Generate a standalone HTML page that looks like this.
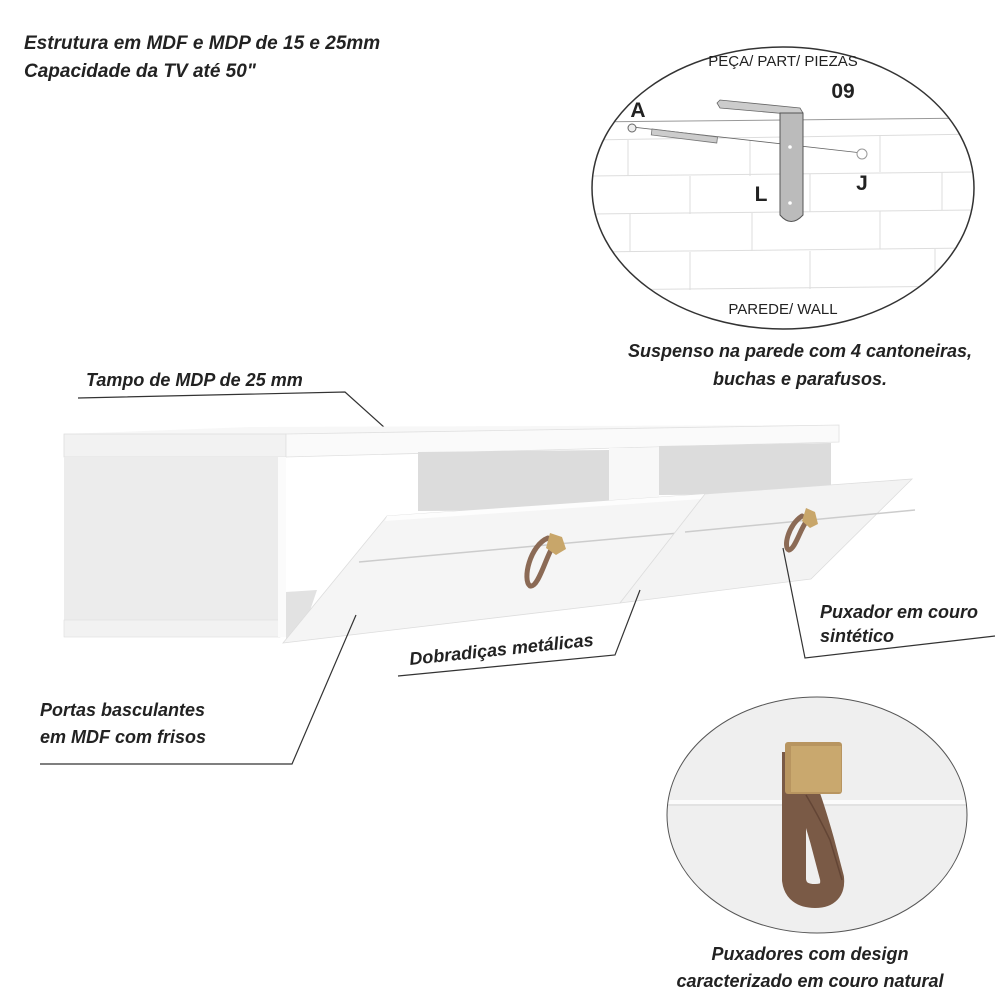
<!DOCTYPE html>
<html><head><meta charset="utf-8"><style>
html,body{margin:0;padding:0;background:#fff;}
svg{display:block;}
.t{font-family:"Liberation Sans",sans-serif;font-style:italic;font-weight:bold;fill:#222;}
.a{font-family:"Liberation Sans",sans-serif;fill:#222;}
</style></head><body>
<svg width="1000" height="1000" viewBox="0 0 1000 1000" xmlns="http://www.w3.org/2000/svg">
<defs>
<clipPath id="c1"><ellipse cx="783" cy="188" rx="191" ry="141"/></clipPath>
<clipPath id="c2"><ellipse cx="817" cy="815" rx="150" ry="118"/></clipPath>
</defs>
<text class="t" x="24" y="49" font-size="19">Estrutura em  MDF e MDP de  15 e 25mm</text>
<text class="t" x="24" y="77" font-size="19">Capacidade da TV até 50"</text>

<ellipse cx="783" cy="188" rx="191" ry="141" fill="#fff"/>
<g clip-path="url(#c1)" stroke="#ddd" stroke-width="1" fill="none">
<line x1="590" y1="122" x2="980" y2="118" stroke="#999"/>
<line x1="590" y1="140" x2="980" y2="134"/>
<line x1="590" y1="176" x2="980" y2="172"/>
<line x1="590" y1="214" x2="980" y2="210"/>
<line x1="590" y1="252" x2="980" y2="248"/>
<line x1="590" y1="290" x2="980" y2="286"/>
<line x1="628" y1="140" x2="628" y2="176"/><line x1="750" y1="140" x2="750" y2="176"/><line x1="880" y1="135" x2="880" y2="172"/>
<line x1="690" y1="176" x2="690" y2="214"/><line x1="810" y1="174" x2="810" y2="212"/><line x1="942" y1="172" x2="942" y2="210"/>
<line x1="630" y1="214" x2="630" y2="252"/><line x1="752" y1="213" x2="752" y2="251"/><line x1="880" y1="211" x2="880" y2="249"/>
<line x1="690" y1="252" x2="690" y2="290"/><line x1="810" y1="251" x2="810" y2="289"/><line x1="935" y1="249" x2="935" y2="287"/>
</g>
<ellipse cx="783" cy="188" rx="191" ry="141" fill="none" stroke="#333" stroke-width="1.5"/>
<text class="a" x="783" y="66" font-size="15" text-anchor="middle">PEÇA/ PART/ PIEZAS</text>
<text class="a" x="843" y="98" font-size="21" font-weight="bold" text-anchor="middle">09</text>
<text class="a" x="638" y="117" font-size="21" font-weight="bold" text-anchor="middle">A</text>
<text class="a" x="761" y="201" font-size="21" font-weight="bold" text-anchor="middle">L</text>
<text class="a" x="862" y="190" font-size="21" font-weight="bold" text-anchor="middle">J</text>
<text class="a" x="783" y="314" font-size="15" text-anchor="middle">PAREDE/ WALL</text>
<line x1="632" y1="127" x2="862" y2="153" stroke="#666" stroke-width="0.8"/>
<circle cx="632" cy="128" r="4" fill="#eee" stroke="#666"/>
<rect x="652" y="129" width="66" height="6" fill="#ccc" stroke="#777" stroke-width="0.8" transform="rotate(7 652 129)"/>
<circle cx="862" cy="154" r="5" fill="#fff" stroke="#999"/>
<polygon points="717,103 720,100 800,108 803,113 800,115 720,108" fill="#ccc" stroke="#666" stroke-width="0.8"/>
<path d="M780,113 L803,113 L803,215 Q791,228 780,215 Z" fill="#bbb" stroke="#555" stroke-width="1"/>
<circle cx="790" cy="147" r="1.8" fill="#fff"/><circle cx="790" cy="203" r="1.8" fill="#fff"/>

<text class="t" x="800" y="357" font-size="18" text-anchor="middle">Suspenso na parede com 4 cantoneiras,</text>
<text class="t" x="800" y="385" font-size="18" text-anchor="middle">buchas e parafusos.</text>

<text class="t" x="86" y="386" font-size="18">Tampo de MDP de 25 mm</text>
<polyline points="78,398 345,392 385,428" fill="none" stroke="#333" stroke-width="1.2"/>

<polygon points="64,434 250,427 839,425 839,442 286,457 64,457" fill="#f7f7f7"/>
<polygon points="64,434 286,434 286,457 64,457" fill="#f2f2f2" stroke="#ddd" stroke-width="0.8"/>
<polygon points="286,434 839,425 839,442 286,457" fill="#fafafa" stroke="#e0e0e0" stroke-width="0.8"/>
<rect x="64" y="457" width="214" height="180" fill="#ececec"/>
<rect x="64" y="620" width="216" height="17" fill="#f2f2f2" stroke="#ddd" stroke-width="0.6"/>
<rect x="278" y="457" width="8" height="180" fill="#fbfbfb"/>
<polygon points="418,452 609,450 609,510 418,511" fill="#dcdcdc"/>
<polygon points="659,446 831,443 831,494 659,495" fill="#dcdcdc"/>
<rect x="609" y="448" width="50" height="60" fill="#f8f8f8"/>
<polygon points="286,592 317,590 300,640 286,640" fill="#e2e2e2"/>
<polygon points="387,516 705,494 620,603 283,643" fill="#f5f5f5" stroke="#ddd" stroke-width="0.8"/>
<polygon points="387,516 705,494 702,499 385,521" fill="#fdfdfd"/>
<line x1="359" y1="562" x2="679" y2="533" stroke="#ccc" stroke-width="1.5"/>
<polygon points="705,494 912,479 811,579 620,603" fill="#f3f3f3" stroke="#ddd" stroke-width="0.8"/>
<line x1="685" y1="532" x2="915" y2="510" stroke="#ccc" stroke-width="1.5"/>
<path d="M548,538 C530,545 522,580 530,586 C538,588 545,560 552,548" fill="none" stroke="#8b6a55" stroke-width="5" stroke-linecap="round"/>
<polygon points="550,533 562,537 566,549 556,555 546,548" fill="#c8a66a"/>
<path d="M802,516 C788,525 783,548 789,550 C795,549 800,530 806,522" fill="none" stroke="#8b6a55" stroke-width="5" stroke-linecap="round"/>
<polygon points="806,508 815,512 818,524 810,528 802,521" fill="#c8a66a"/>

<text class="t" font-size="18" transform="translate(410,665) rotate(-6)">Dobradiças metálicas</text>
<polyline points="398,676 615,655 640,590" fill="none" stroke="#333" stroke-width="1.2"/>
<text class="t" x="820" y="618" font-size="18">Puxador em couro</text>
<text class="t" x="820" y="642" font-size="18">sintético</text>
<polyline points="783,548 805,658 995,636" fill="none" stroke="#333" stroke-width="1.2"/>
<text class="t" x="40" y="716" font-size="18">Portas basculantes</text>
<text class="t" x="40" y="743" font-size="18">em MDF com frisos</text>
<polyline points="40,764 292,764 356,615" fill="none" stroke="#333" stroke-width="1.2"/>

<ellipse cx="817" cy="815" rx="150" ry="118" fill="#efefef"/>
<g clip-path="url(#c2)">
<rect x="660" y="800" width="320" height="4" fill="#fbfbfb"/>
<line x1="660" y1="805" x2="980" y2="805" stroke="#d5d5d5"/>
<path d="M794,752 L794,880 Q796,896 815,896 Q834,896 832,878 L822,840 Q812,805 806,790" fill="none" stroke="#7a5a46" stroke-width="24" stroke-linejoin="round"/>
<path d="M806,795 Q818,815 830,840 L842,880" fill="none" stroke="#634535" stroke-width="1.5"/>
<rect x="785" y="742" width="57" height="52" fill="#b89560" rx="3"/>
<rect x="791" y="746" width="50" height="46" fill="#c9a86e"/>
</g>
<ellipse cx="817" cy="815" rx="150" ry="118" fill="none" stroke="#555" stroke-width="1"/>
<text class="t" x="810" y="960" font-size="18" text-anchor="middle">Puxadores com design</text>
<text class="t" x="810" y="987" font-size="18" text-anchor="middle">caracterizado em couro natural</text>
</svg>
</body></html>
